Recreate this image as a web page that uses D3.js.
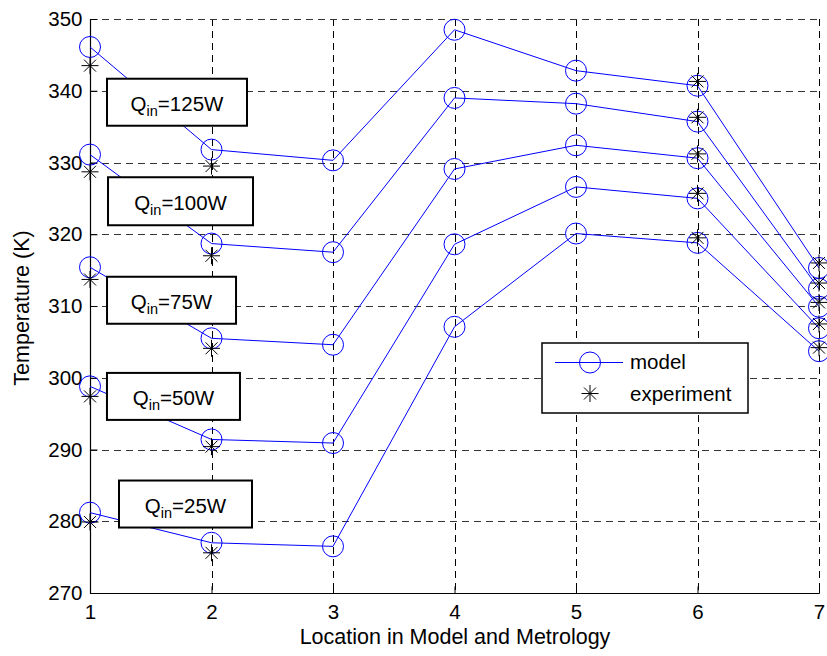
<!DOCTYPE html>
<html>
<head>
<meta charset="utf-8">
<script src="https://cdn.jsdelivr.net/npm/d3@7"></script>
<style>
  html, body { margin: 0; padding: 0; background: #fff; }
  svg { display: block; font-family: "Liberation Sans", Arial, Helvetica, sans-serif; }
</style>
</head>
<body>
<svg id="chart" width="827" height="656"></svg>
<script>
// Measurement locations along the model / test rig
const locations = [1, 2, 3, 4, 5, 6, 7];
// Locations where thermocouple readings exist
const expLocations = [1, 2, 6, 7];

// Heat input levels (W)
const heatInputs = [125, 100, 75, 50, 25];

// Model temperatures (K) per heat input
const model125 = [346.1, 331.8, 330.3, 348.5, 342.8, 340.7, 315.3];
const model100 = [331.1, 318.7, 317.5, 339.0, 338.2, 335.7, 312.4];
const model75  = [315.4, 305.5, 304.6, 329.1, 332.4, 330.6, 309.9];
const model50  = [298.8, 291.4, 290.9, 318.6, 326.6, 325.0, 306.9];
const model25  = [281.2, 277.0, 276.5, 307.1, 320.1, 318.8, 303.7];

// Measured temperatures (K) per heat input at expLocations
const exp125 = [343.5, 329.5, 341.3, 316.0];
const exp100 = [328.7, 317.0, 336.3, 313.2];
const exp75  = [313.7, 304.1, 331.2, 310.5];
const exp50  = [297.4, 290.4, 325.7, 307.5];
const exp25  = [279.9, 275.6, 319.5, 304.2];

// Axis ticks
const xTicks = [1, 2, 3, 4, 5, 6, 7];
const yTicks = [270, 280, 290, 300, 310, 320, 330, 340, 350];

const modelSeries = [model125, model100, model75, model50, model25];
const expSeries = [exp125, exp100, exp75, exp50, exp25];

// Annotation boxes: centre in data units, box size in px
const labelAnchors = [
  { q: 125, x: 1.716, y: 338.4, w: 140, h: 47 },
  { q: 100, x: 1.745, y: 324.6, w: 145, h: 48 },
  { q: 75,  x: 1.671, y: 310.8, w: 129, h: 47 },
  { q: 50,  x: 1.687, y: 297.4, w: 133, h: 47 },
  { q: 25,  x: 1.786, y: 282.4, w: 133, h: 47 }
];

const svg = d3.select("#chart");
const plotL = 90, plotR = 819, plotT = 19, plotB = 593;
const x = d3.scaleLinear().domain([1, 7]).range([plotL, plotR]);
const y = d3.scaleLinear().domain([270, 350]).range([plotB, plotT]);

const fontSize = 20.5;
const titleSize = 21.5;
const blue = "#0000ff";

// Grid lines (dashed)
const grid = svg.append("g").attr("stroke", "#000").attr("stroke-width", 1)
  .attr("stroke-dasharray", "7,5").attr("fill", "none");
grid.selectAll("line.v").data(xTicks.filter(d => d !== 1)).join("line")
  .attr("x1", d => Math.round(x(d)) + 0.5).attr("x2", d => Math.round(x(d)) + 0.5)
  .attr("y1", plotT).attr("y2", plotB);
grid.selectAll("line.h").data(yTicks.filter(d => d !== 270)).join("line")
  .attr("x1", plotL).attr("x2", plotR)
  .attr("y1", d => Math.round(y(d)) + 0.5).attr("y2", d => Math.round(y(d)) + 0.5)
  .attr("stroke", "#333");

// Axes (inward ticks)
const xAxis = d3.axisBottom(x).tickValues(xTicks).tickSize(-7).tickFormat(d3.format("d"));
const yAxis = d3.axisLeft(y).tickValues(yTicks).tickSize(-7).tickFormat(d3.format("d"));

const gx = svg.append("g").attr("transform", `translate(0,${plotB + 0.5})`).call(xAxis);
const gy = svg.append("g").attr("transform", `translate(${plotL + 0.5},0)`).call(yAxis);
[gx, gy].forEach(g => {
  g.select(".domain").remove();
  g.selectAll(".tick line").attr("stroke", "#000");
  g.selectAll(".tick text").attr("fill", "#000").attr("font-size", fontSize)
    .attr("font-family", "Liberation Sans, Arial, sans-serif");
});
gx.selectAll(".tick text").attr("dy", "0.71em").attr("y", 11);
gy.selectAll(".tick text").attr("x", -8);
svg.append("line").attr("x1", plotL + 0.5).attr("x2", plotL + 0.5).attr("y1", plotT).attr("y2", plotB + 0.5)
  .attr("stroke", "#000").attr("stroke-width", 1.2);
svg.append("line").attr("x1", plotL).attr("x2", plotR + 0.5).attr("y1", plotB + 0.5).attr("y2", plotB + 0.5)
  .attr("stroke", "#000").attr("stroke-width", 1.2);

// Axis titles
svg.append("text").attr("x", 455).attr("y", 644).attr("text-anchor", "middle")
  .attr("font-size", titleSize).text("Location in Model and Metrology");
svg.append("text").attr("transform", "translate(29,308) rotate(-90)").attr("text-anchor", "middle")
  .attr("font-size", titleSize).text("Temperature (K)");

// Model lines
const line = d3.line().x((d, i) => x(locations[i])).y(d => y(d));
svg.append("g").selectAll("path").data(modelSeries).join("path")
  .attr("d", d => line(d)).attr("fill", "none").attr("stroke", blue).attr("stroke-width", 1);

// Annotation boxes
const lab = svg.append("g").selectAll("g").data(labelAnchors).join("g")
  .attr("transform", d => `translate(${x(d.x)},${y(d.y)})`);
lab.append("rect").attr("x", d => -d.w / 2).attr("y", d => -d.h / 2)
  .attr("width", d => d.w).attr("height", d => d.h)
  .attr("fill", "#fff").attr("stroke", "#000").attr("stroke-width", 2);
const lt = lab.append("text").attr("text-anchor", "middle").attr("y", 8.5).attr("font-size", fontSize);
lt.append("tspan").text("Q");
lt.append("tspan").attr("font-size", 14.5).attr("dy", 5).text("in");
lt.append("tspan").attr("dy", -5).text(d => `=${d.q}W`);

// Markers
const r = 10.5;
svg.append("g").selectAll("g").data(modelSeries).join("g")
  .selectAll("circle").data(d => d).join("circle")
  .attr("cx", (d, i) => x(locations[i])).attr("cy", d => y(d)).attr("r", r)
  .attr("fill", "none").attr("stroke", blue).attr("stroke-width", 1);

function star(g, cx, cy) {
  const a = 8.5, b = 6;
  const p = `M${cx - a},${cy}L${cx + a},${cy}M${cx},${cy - a}L${cx},${cy + a}` +
            `M${cx - b},${cy - b}L${cx + b},${cy + b}M${cx - b},${cy + b}L${cx + b},${cy - b}`;
  g.append("path").attr("d", p).attr("stroke", "#000").attr("stroke-width", 1).attr("fill", "none");
}
const stars = svg.append("g");
expSeries.forEach(s => s.forEach((v, i) => star(stars, x(expLocations[i]), y(v))));

// Legend
const lg = svg.append("g");
lg.append("rect").attr("x", 542).attr("y", 343).attr("width", 206).attr("height", 70)
  .attr("fill", "#fff").attr("stroke", "#000").attr("stroke-width", 1.5);
lg.append("line").attr("x1", 555).attr("x2", 623).attr("y1", 362.5).attr("y2", 362.5)
  .attr("stroke", blue).attr("stroke-width", 1);
lg.append("circle").attr("cx", 590).attr("cy", 362.5).attr("r", r)
  .attr("fill", "none").attr("stroke", blue);
star(lg, 590, 393.5);
lg.append("text").attr("x", 630).attr("y", 369).attr("font-size", fontSize).text("model");
lg.append("text").attr("x", 630).attr("y", 401).attr("font-size", fontSize).text("experiment");
</script>
</body>
</html>
